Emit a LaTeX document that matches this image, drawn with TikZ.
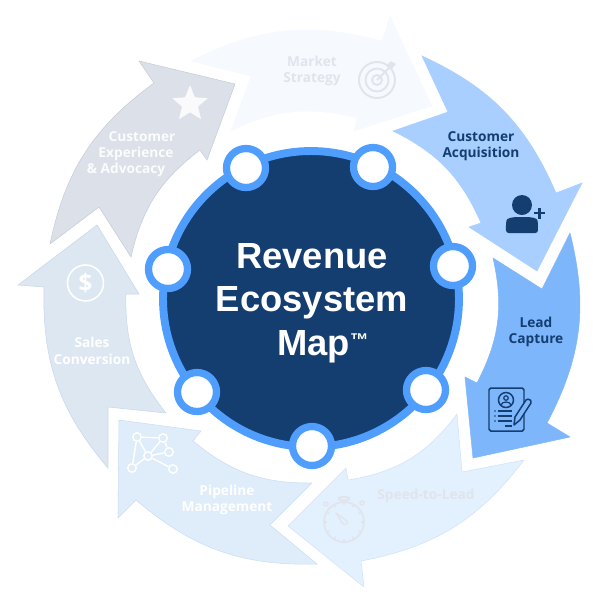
\documentclass[tikz,border=0pt]{standalone}
\usepackage{fontspec}
\setmainfont{Open Sans}
\newfontfamily\titlefont{Liberation Sans}
\usepackage{tikz}
\usetikzlibrary{shapes.geometric, positioning}
\definecolor{navy}{HTML}{143D70}
\definecolor{ringblue}{HTML}{4F9EFD}
\definecolor{marketfill}{HTML}{F6FAFE}
\definecolor{acquirefill}{HTML}{A8CFFF}
\definecolor{leadfill}{HTML}{7EB6FC}
\definecolor{speedfill}{HTML}{E3F0FE}
\definecolor{speededge}{HTML}{D0E3F9}
\definecolor{pipefill}{HTML}{DFECFA}
\definecolor{pipeedge}{HTML}{CADEF6}
\definecolor{salesfill}{HTML}{DDE7F2}
\definecolor{salesedge}{HTML}{C8D7E9}
\definecolor{advocfill}{HTML}{DBE0E9}
\definecolor{advocedge}{HTML}{C6CCD7}
\definecolor{fadetext}{HTML}{E0E4EC}

\begin{document}
\begin{tikzpicture}[
    x=0.02cm, y=-0.02cm,
    hubdisc/.style={circle, draw=ringblue, fill=navy, line width=4.5pt, minimum size=5.92cm, inner sep=0pt},
    portdot/.style={circle, draw=ringblue, fill=white, line width=4.15pt, minimum size=0.78cm, inner sep=0pt},
    segarrow/.style={line width=0.3pt, line join=miter},
    seglabel/.style={font=\bfseries\fontsize{7.8}{9.4}\selectfont, align=center, inner sep=0pt},
    netdot/.style={circle, draw=white, line width=0.8pt, minimum size=0.17cm, inner sep=0pt},
    targetring/.style={circle, draw=fadetext, line width=1.1pt, inner sep=0pt},
]
\useasboundingbox (0,0) rectangle (600,600);

% Market Strategy
\draw[segarrow, draw=marketfill, fill=marketfill] (191,61) to[bend left=21] (382,41) -- (390,16) -- (432,106)
    -- (354,131) -- (357,118) to[bend right=20] (231,131) -- (251,76) -- cycle;
% Customer Acquisition
\draw[segarrow, draw=acquirefill, fill=acquirefill] (422,56) to[bend left=21] (556,193) -- (582,183) -- (537,271)
    -- (469,227) -- (481,223) to[bend right=20] (393,131) -- (448,112) -- cycle;
% Lead Capture
\draw[segarrow, draw=leadfill, fill=leadfill] (570,233) to[bend left=21] (547,423) -- (570,437) -- (473,458)
    -- (465,377) -- (477,383) to[bend right=20] (493,258) -- (542,289) -- cycle;
% Speed-to-Lead
\draw[segarrow, draw=speededge, fill=speedfill] (524,460) to[bend left=21] (361,561) -- (364,587) -- (288,526)
    -- (346,468) -- (348,480) to[bend right=22] (457,414) -- (462,472) -- cycle;
% Pipeline Management
\draw[segarrow, draw=pipeedge, fill=pipefill] (317,564) to[bend left=21] (136,500) -- (118,518) -- (119,420)
    -- (201,431) -- (193,441) to[bend right=20] (312,483) -- (270,525) -- cycle;
% Sales Conversion
\draw[segarrow, draw=salesedge, fill=salesfill] (108,468) to[bend left=21] (44,287) -- (18,285) -- (97,225)
    -- (139,294) -- (126,294) to[bend right=20] (166,413) -- (108,407) -- cycle;
% Customer Experience
\draw[segarrow, draw=advocedge, fill=advocfill] (50,244) to[bend left=21] (154,83) -- (139,61) -- (235,84)
    -- (207,160) -- (200,150) to[bend right=20] (131,257) -- (99,207) -- cycle;

% Hub and ports
\node[hubdisc] (hub) at (311,299) {};
\foreach \n/\x/\y in {a/246/168, b/373/167, c/453/266, d/426/390, e/312/446, f/197/392, g/168/269} {
    \node[portdot] (port\n) at (\x,\y) {};
}
\node[font=\titlefont\bfseries\fontsize{20.7}{24.7}\selectfont, text=white, align=center, inner sep=0pt] (title) at (312,303)
    {Revenue\\Ecosystem\\\hspace*{12.5pt}Map\raisebox{5pt}{\fontsize{10.5}{10.5}\selectfont ™}};

% Labels
\node[seglabel, text=fadetext] (marketlabel) at (312,71) {Market\\Strategy};
\node[seglabel, text=navy] (acquirelabel) at (481,146) {Customer\\Acquisition};
\node[seglabel, text=navy] (leadlabel) at (536,332) {Lead\\Capture};
\node[seglabel, text=fadetext] (speedlabel) at (426,496) {Speed-to-Lead};
\node[seglabel, text=white] (pipelabel) at (227,500) {Pipeline\\Management};
\node[seglabel, text=white] (saleslabel) at (92,351) {Sales\\Conversion};
\node[seglabel, text=white!90!advocfill] (advoclabela) at (142,137) {Customer};
\node[seglabel, text=white!90!advocfill] (advoclabelb) at (136,154) {Experience};
\node[seglabel, text=white!90!advocfill] (advoclabelc) at (126,170) {\& Advocacy};

% Target icon
\node[targetring, minimum size=0.72cm] (targeta) at (377,80) {};
\node[targetring, minimum size=0.46cm] (targetb) at (377,80) {};
\node[targetring, minimum size=0.2cm] (targetc) at (377,80) {};
\coordinate (targettip) at (390,67);
\draw[fadetext, line width=1.1pt] (targetc.center) -- (targettip);
\fill[fadetext] (386,66) -- (391,61) -- (396,64) -- (391,70) -- cycle;

% User icon
\node[circle, fill=navy, minimum size=0.4cm, inner sep=0pt] (userhead) at (522,205) {};
\fill[navy, rounded corners=1.5pt] (506,233) -- (506,223) .. controls (507,218) and (512,217) .. (522,217)
    .. controls (532,217) and (537,218) .. (538,223) -- (538,233) -- cycle;
\draw[navy, line width=1.5pt] (534,213) -- (545,213) (539.5,207.5) -- (539.5,218.5);

% Document icon
\draw[navy, line width=0.85pt, rounded corners=1pt] (489,388) rectangle (524,431);
\node[circle, draw=navy, line width=0.85pt, minimum size=0.3cm, inner sep=0pt] (docface) at (506,400) {};
\node[circle, draw=navy, line width=0.7pt, minimum size=0.09cm, inner sep=0pt] (dochead) at (506,398) {};
\draw[navy, line width=0.7pt] (501,405) .. controls (502,401) and (510,401) .. (511,405);
\foreach \y in {411,416,421} {
    \draw[navy, line width=0.85pt] (498,\y) -- (512,\y);
    \fill[navy] (495,\y) circle (0.9);
}
\draw[navy, line width=0.85pt] (505,426) -- (512,426);
\draw[navy, fill=leadfill, line width=0.85pt, line join=round] (514,425) -- (515,417) -- (526,400) .. controls (528,398) and (532,400) .. (531,403)
    -- (520,420) -- cycle;

% Stopwatch icon
\node[circle, draw=fadetext, line width=1pt, minimum size=0.8cm, inner sep=0pt] (watch) at (344,522) {};
\foreach \a in {0,30,...,330} {
    \draw[fadetext, line width=0.8pt] ([shift={(\a:20)}]watch.center) -- ([shift={(\a:17)}]watch.center);
}
\draw[fadetext, line width=1pt, rounded corners=1pt] (339,497) rectangle (349,500);
\draw[fadetext, line width=1pt] (344,500) -- (344,502);
\node[circle, draw=fadetext, line width=0.8pt, minimum size=0.08cm, inner sep=0pt] (watchl) at (326,504) {};
\node[circle, draw=fadetext, line width=0.8pt, minimum size=0.08cm, inner sep=0pt] (watchr) at (362,503) {};
\draw[fadetext, line width=0.8pt, line join=round] (336,513) -- (347,521) .. controls (348,525) and (345,525) .. (343,524) -- cycle;

% Network icon
\foreach \n/\x/\y in {a/137/437, b/163/438, c/169/452, d/148/456, e/132/468, f/173/469} {
    \node[netdot] (net\n) at (\x,\y) {};
}
\foreach \p/\q in {a/b, a/d, a/e, b/c, b/d, c/d, d/e, d/f} {
    \draw[white, line width=0.8pt] (net\p) -- (net\q);
}

% Dollar icon
\node[circle, draw=white, line width=0.9pt, minimum size=0.72cm, inner sep=0pt, text=white, font=\bfseries\fontsize{13.7}{13.7}\selectfont] (dollar) at (85.5,283) {\$};

% Star icon
\node[star, star points=5, star point ratio=2.3, fill=white!85!advocfill, rounded corners=0.5pt, minimum size=0.76cm, inner sep=0pt] (staricon) at (190,104) {};

\end{tikzpicture}
\end{document}
